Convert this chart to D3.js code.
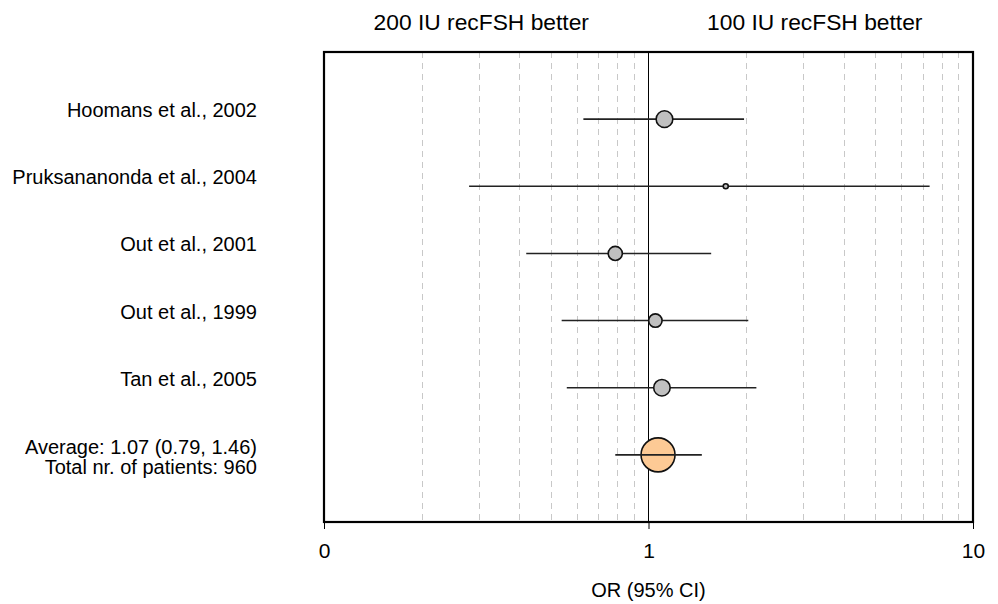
<!DOCTYPE html>
<html>
<head>
<meta charset="utf-8">
<script src="https://cdn.jsdelivr.net/npm/d3@7"></script>
<style>
  body { margin: 0; background: #fff; }
  svg text { font-family: 'Liberation Sans', Arial, sans-serif; fill: #000; }
</style>
</head>
<body>
<div id="chart"></div>
<script>
(function() {
  'use strict';

  // study rows, top to bottom
  var studies = ['Hoomans et al., 2002', 'Pruksananonda et al., 2004', 'Out et al., 2001',
                 'Out et al., 1999', 'Tan et al., 2005'];
  var oddsRatio = [1.12, 1.73, 0.79, 1.05, 1.10];
  var lowerCI = [0.63, 0.28, 0.42, 0.54, 0.56];
  var upperCI = [1.97, 7.35, 1.56, 2.03, 2.15];
  var patients = [230, 21, 165, 150, 225];

  // pooled estimate
  var pooled = { or: 1.07, lo: 0.79, hi: 1.46, n: 960 };
  var pooledLabel = ['Average: 1.07 (0.79, 1.46)', 'Total nr. of patients: 960'];

  var tickValues = [0.1, 1, 10];
  var tickLabels = ['0', '1', '10'];
  var sideLabels = ['200 IU recFSH better', '100 IU recFSH better'];

  var width = 998, height = 604;
  var margin = { top: 52, right: 25, bottom: 82, left: 324 };
  var innerW = width - margin.left - margin.right;
  var innerH = height - margin.top - margin.bottom;

  var svg = d3.select('#chart')
    .append('svg')
    .attr('width', width)
    .attr('height', height);

  var g = svg.append('g')
    .attr('transform', 'translate(' + margin.left + ',' + margin.top + ')');

  var x = d3.scaleLog().domain([0.1, 10]).range([0, innerW]);
  var y = d3.scaleLinear().domain([0, studies.length + 2]).range([0, innerH]);
  var r = d3.scaleSqrt().domain([0, pooled.n]).range([0, 17]);

  // minor gridlines (0.2..0.9, 2..9)
  var minor = x.ticks().filter(function(v) {
    return v > 0.1 && v < 10 && v !== 1;
  });
  g.selectAll('.grid')
    .data(minor)
    .enter().append('line')
    .attr('x1', function(d) { return Math.round(x(d)) + 0.5; })
    .attr('x2', function(d) { return Math.round(x(d)) + 0.5; })
    .attr('y1', 0)
    .attr('y2', innerH)
    .attr('stroke', '#c8c8c8')
    .attr('stroke-width', 1)
    .attr('stroke-dasharray', '6,5');

  // line of no effect
  g.append('line')
    .attr('x1', Math.round(x(1)) + 0.5)
    .attr('x2', Math.round(x(1)) + 0.5)
    .attr('y1', 0)
    .attr('y2', innerH)
    .attr('stroke', '#000')
    .attr('stroke-width', 1);

  var rows = studies.map(function(name, i) {
    return { name: name, or: oddsRatio[i], lo: lowerCI[i], hi: upperCI[i], n: patients[i], row: i + 1 };
  });

  // confidence intervals
  g.selectAll('.ci')
    .data(rows)
    .enter().append('line')
    .attr('x1', function(d) { return x(d.lo); })
    .attr('x2', function(d) { return x(d.hi); })
    .attr('y1', function(d) { return y(d.row); })
    .attr('y2', function(d) { return y(d.row); })
    .attr('stroke', '#222')
    .attr('stroke-width', 1.6);

  g.selectAll('.pt')
    .data(rows)
    .enter().append('circle')
    .attr('cx', function(d) { return x(d.or); })
    .attr('cy', function(d) { return y(d.row); })
    .attr('r', function(d) { return r(d.n); })
    .attr('fill', '#c0c0c0')
    .attr('stroke', '#111')
    .attr('stroke-width', 1.6);

  // pooled row
  var pr = studies.length + 1;
  g.append('circle')
    .attr('cx', x(pooled.or))
    .attr('cy', y(pr))
    .attr('r', r(pooled.n))
    .attr('fill', '#fdca95')
    .attr('stroke', '#111')
    .attr('stroke-width', 1.6);
  g.append('line')
    .attr('x1', x(pooled.lo))
    .attr('x2', x(pooled.hi))
    .attr('y1', y(pr))
    .attr('y2', y(pr))
    .attr('stroke', '#222')
    .attr('stroke-width', 1.6);

  // frame
  g.append('rect')
    .attr('x', 0)
    .attr('y', 0)
    .attr('width', innerW)
    .attr('height', innerH)
    .attr('fill', 'none')
    .attr('stroke', '#000')
    .attr('stroke-width', 2.2);

  // x axis
  var xAxis = d3.axisBottom(x)
    .tickValues(tickValues)
    .tickFormat(function(d, i) { return tickLabels[i]; })
    .tickSize(7)
    .tickPadding(14);
  var ax = g.append('g')
    .attr('transform', 'translate(0,' + innerH + ')')
    .call(xAxis);
  ax.select('.domain').remove();
  ax.selectAll('.tick line').attr('stroke', '#000');
  ax.selectAll('.tick text')
    .style('font-size', '21px')
    .style('font-family', "'Liberation Sans', Arial, sans-serif");

  g.append('text')
    .attr('x', x(1))
    .attr('y', innerH + 75)
    .style('text-anchor', 'middle')
    .style('font-size', '20px')
    .text('OR (95% CI)');

  // direction labels
  svg.append('text')
    .attr('x', margin.left + x(Math.sqrt(0.1)) - 5)
    .attr('y', 30)
    .style('text-anchor', 'middle')
    .style('font-size', '22.8px')
    .text(sideLabels[0]);
  svg.append('text')
    .attr('x', margin.left + x(Math.sqrt(10)) + 4)
    .attr('y', 30)
    .style('text-anchor', 'middle')
    .style('font-size', '22.8px')
    .text(sideLabels[1]);

  // row labels
  g.selectAll('.lbl')
    .data(rows)
    .enter().append('text')
    .attr('x', -67)
    .attr('y', function(d) { return y(d.row) - 2; })
    .style('text-anchor', 'end')
    .style('font-size', '20px')
    .text(function(d) { return d.name; });

  g.selectAll('.plbl')
    .data(pooledLabel)
    .enter().append('text')
    .attr('x', -67)
    .attr('y', function(d, i) { return y(pr) - 1 + i * 20; })
    .style('text-anchor', 'end')
    .style('font-size', '20px')
    .text(function(d) { return d; });
})();
</script>
</body>
</html>
